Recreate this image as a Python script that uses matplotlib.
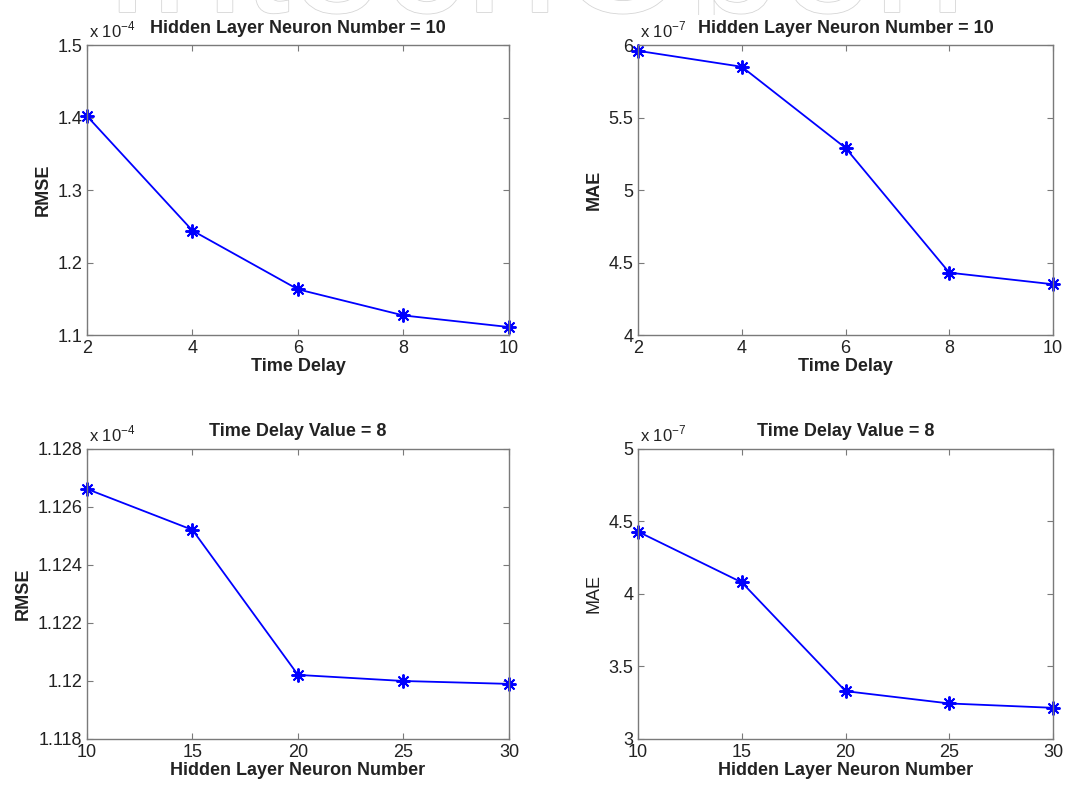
import matplotlib
matplotlib.use("Agg")
import matplotlib.pyplot as plt
import matplotlib.patheffects as pe
from matplotlib.patches import Rectangle
from matplotlib.ticker import FormatStrFormatter

plt.rcParams['font.family'] = ['Liberation Sans', 'DejaVu Sans']

# data
time_delay = [2, 4, 6, 8, 10]
rmse_delay = [1.402e-4, 1.244e-4, 1.163e-4, 1.127e-4, 1.111e-4]
mae_delay = [5.96e-7, 5.85e-7, 5.29e-7, 4.43e-7, 4.35e-7]

neurons = [10, 15, 20, 25, 30]
rmse_neuron = [1.12662e-4, 1.12521e-4, 1.12021e-4, 1.12000e-4, 1.11990e-4]
mae_neuron = [4.43e-7, 4.08e-7, 3.33e-7, 3.245e-7, 3.215e-7]

top_title = "Hidden Layer Neuron Number = 10"
bottom_title = "Time Delay Value = 8"


def draw_panel(ax, x, y, scale, exp, xticks, yticks, xlabel, ylabel, title, ylabel_bold=True):
    ax.plot(x, [v / scale for v in y], color='#0000ff', lw=1.3, marker=(8, 2, 0),
            markersize=10, markeredgewidth=1.4, clip_on=False)
    ax.set_xlim(xticks[0], xticks[-1])
    ax.set_ylim(yticks[0], yticks[-1])
    ax.set_xticks(xticks)
    ax.set_yticks(yticks)
    ax.yaxis.set_major_formatter(FormatStrFormatter('%g'))
    ax.tick_params(direction='in', length=4, width=0.8, labelsize=13,
                   colors='#7a7a7a', labelcolor='#222222',
                   top=True, right=True)
    for s in ax.spines.values():
        s.set_color('#7a7a7a')
        s.set_linewidth(1.0)
    ax.set_xlabel(xlabel, fontsize=13, fontweight='bold', labelpad=1, color='#222222')
    ax.set_ylabel(ylabel, fontsize=13, fontweight='bold' if ylabel_bold else 'normal',
                  color='#222222')
    ax.set_title(title, fontsize=13, fontweight='bold', pad=9, color='#222222')
    ax.text(0.005, 1.015, r'x 10$^{\mathregular{-%d}}$' % exp, transform=ax.transAxes,
            fontsize=12, color='#222222', ha='left', va='bottom')


fig = plt.figure(figsize=(10.7, 7.87), dpi=100)

# faint outlined watermark: only its lower edge shows at the top, the rest is
# hidden behind a white band that sits under the axes
fig.text(0.5, 1 - 12 / 787, 'IntechOpen', fontsize=120, color='white',
         ha='center', va='baseline', zorder=-3,
         path_effects=[pe.withStroke(linewidth=1.2, foreground='#d6d6d6')])
fig.patches.append(Rectangle((0, 0), 1, 1 - 15 / 787, transform=fig.transFigure,
                             facecolor='white', edgecolor='none', zorder=-2))

ax1 = fig.add_axes([0.0813, 0.5743, 0.3944, 0.3685])
ax2 = fig.add_axes([0.5963, 0.5743, 0.3879, 0.3685])
ax3 = fig.add_axes([0.0813, 0.0610, 0.3944, 0.3685])
ax4 = fig.add_axes([0.5963, 0.0610, 0.3879, 0.3685])

draw_panel(ax1, time_delay, rmse_delay, 1e-4, 4, time_delay,
           [1.1, 1.2, 1.3, 1.4, 1.5], 'Time Delay', 'RMSE', top_title)
draw_panel(ax2, time_delay, mae_delay, 1e-7, 7, time_delay,
           [4, 4.5, 5, 5.5, 6], 'Time Delay', 'MAE', top_title)
draw_panel(ax3, neurons, rmse_neuron, 1e-4, 4, neurons,
           [1.118, 1.12, 1.122, 1.124, 1.126, 1.128],
           'Hidden Layer Neuron Number', 'RMSE', bottom_title)
draw_panel(ax4, neurons, mae_neuron, 1e-7, 7, neurons,
           [3, 3.5, 4, 4.5, 5], 'Hidden Layer Neuron Number', 'MAE', bottom_title,
           ylabel_bold=False)

fig.savefig('out.png', dpi=100)
